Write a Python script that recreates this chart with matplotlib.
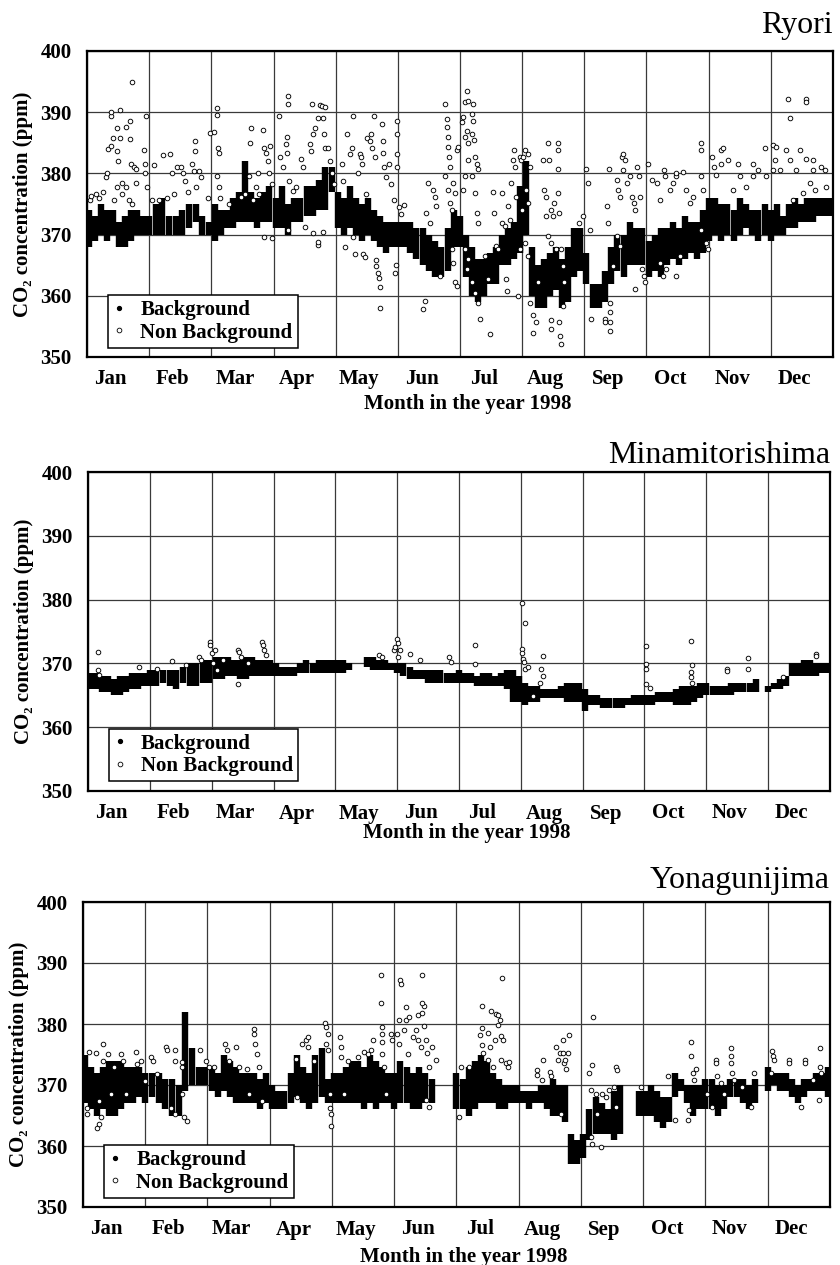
import numpy as np
import matplotlib
matplotlib.use("Agg")
import matplotlib.pyplot as plt
from matplotlib.lines import Line2D

plt.rcParams["font.family"] = ["Liberation Serif", "DejaVu Serif"]

months = ["Jan", "Feb", "Mar", "Apr", "May", "Jun",
          "Jul", "Aug", "Sep", "Oct", "Nov", "Dec"]
month_start = [0, 31, 59, 90, 120, 151, 181, 212, 243, 273, 304, 334, 365]

# background band, min / max ppm per 3-day step (day 1, 4, 7, ... 364)
ryori_bg_lo = [
    368, 369, 370, 369, 370, 368, 368, 369, 370, 370,
    370, 370, 370, 370, 370, 370, 371, 372, 370, 370,
    369, 370, 371, 371, 372, 372, 372, 371, 372, 372,
    371, 371, 370, 372, 372, 373, 373, 374, 374, 377,
    371, 370, 371, 370, 369, 370, 369, 368, 367, 368,
    368, 368, 367, 366, 365, 364, 363, 363, 364, 368,
    368, 363, 360, 359, 360, 362, 362, 365, 365, 366,
    367, 370, 360, 358, 358, 360, 361, 358, 359, 363,
    364, 362, 358, 358, 359, 362, 364, 363, 365, 365,
    365, 363, 364, 363, 365, 366, 365, 366, 367, 366,
    367, 369, 370, 369, 370, 369, 370, 371, 370, 369,
    370, 369, 370, 370, 371, 371, 372, 372, 372, 373,
    373, 373]
ryori_bg_hi = [
    374, 373, 375, 374, 374, 372, 373, 374, 374, 373,
    373, 375, 376, 373, 373, 374, 375, 375, 373, 372,
    375, 374, 374, 376, 377, 382, 377, 376, 377, 378,
    376, 378, 375, 376, 376, 378, 378, 379, 381, 381,
    377, 376, 378, 376, 375, 376, 374, 373, 372, 372,
    372, 372, 372, 371, 371, 370, 369, 368, 371, 374,
    373, 370, 368, 366, 366, 367, 368, 370, 371, 372,
    378, 382, 368, 365, 366, 367, 368, 366, 368, 371,
    371, 367, 362, 362, 364, 368, 370, 370, 372, 371,
    371, 369, 370, 371, 371, 372, 371, 373, 372, 372,
    374, 376, 376, 375, 375, 374, 376, 375, 374, 374,
    375, 374, 375, 373, 375, 376, 375, 376, 376, 376,
    376, 376]

minami_bg_lo = [
    366, 366, 365.5, 365.5, 365, 365, 365.5, 366, 366, 366.5,
    366.5, 366.5, 367, 366.5, 366, 367, 366.5, 366.5, 367, 367,
    367.5, 367.5, 368, 368, 367.5, 367.5, 368, 368, 368, 368,
    368, 368, 368, 368, 368.5, 368.5, 368.5, 368.5, 368.5, 368.5,
    368.5, 368.5, 369, np.nan, np.nan, 369.5, 369, 369, 369, 369,
    368.5, 368, 367.5, 367.5, 367.5, 367, 367, 367, 367, 367,
    367, 367, 367, 366.5, 366.5, 366.5, 366.5, 366.5, 366, 364,
    364, 363.5, 364, 364, 364.5, 364.5, 364.5, 364.5, 364, 364,
    364, 362.5, 363.5, 363.5, 363, 363, 363, 363, 363.5, 363.5,
    363.5, 363.5, 363.5, 364, 364, 364, 363.5, 363.5, 363.5, 364,
    364.5, 365, 365, 365, 365, 365, 365.5, 365.5, 365.5, 365.5,
    np.nan, 365.5, 366, 366, 366.5, 368, 368, 368, 368, 368,
    368.5, 368.5]
minami_bg_hi = [
    368.5, 368.5, 368, 368, 367.5, 368, 368, 368.5, 368.5, 368.5,
    369, 369, 369, 369, 369, 369.5, 370, 370, 370.5, 370.5,
    371, 371, 371, 370.5, 370.5, 371, 371, 370.5, 370.5, 370.5,
    370, 369.5, 369.5, 369.5, 370, 370.5, 370, 370.5, 370.5, 370.5,
    370.5, 370.5, 370, np.nan, np.nan, 371, 371, 370.5, 370.5, 370,
    370, 370, 369.5, 369, 369, 369, 369, 369, 368.5, 368.5,
    369, 368.5, 368.5, 368, 368.5, 368.5, 368, 368.5, 369, 369,
    368, 367, 366.5, 366.5, 366, 366, 366, 366.5, 367, 367,
    367, 366, 365, 365, 364.5, 364.5, 364.5, 364.5, 364.5, 365,
    365, 365, 365, 365.5, 365.5, 365.5, 366, 366.5, 366.5, 366.5,
    367, 367, 366.5, 366.5, 366.5, 367, 367, 367, 367, 367.5,
    np.nan, 366.5, 367, 367.5, 368, 370, 370, 370.5, 370.5, 370,
    370, 370]

yona_bg_lo = [
    367, 366, 365, 366, 365, 365, 366, 367, 367, 368,
    367, 368, 367, 366, 365, 365, 369, 370, 370, 370,
    369, 368, 369, 368, 367, 367, 367, 367, 366, 367,
    366, 366, 366, 367, 368, 367, 366, 367, 368, 367,
    367, 367, 367, 367, 367, 366, 367, 366, 367, 367,
    366, 367, 367, 366, 366, 367, 367, np.nan, np.nan, np.nan,
    366, 366, 365, 366, 367, 367, 367, 366, 366, 367,
    367, 367, 366, 367, 367, 366, 365, 365, 364, 357,
    357, 358, 361, 362, 362, 362, 361, 362, np.nan, np.nan,
    365, 365, 365, 364, 363, 364, 368, 369, 367, 365,
    366, 366, 366, 365, 366, 368, 368, 367, 366, 367,
    np.nan, 369, 370, 369, 369, 368, 367, 368, 369, 369,
    369, 368]
yona_bg_hi = [
    375, 373, 372, 373, 374, 374, 374, 373, 373, 373,
    372, 372, 372, 371, 371, 370, 382, 376, 373, 373,
    373, 372, 375, 374, 373, 372, 372, 372, 371, 372,
    370, 369, 369, 372, 375, 373, 372, 375, 376, 371,
    372, 372, 373, 374, 374, 373, 375, 374, 373, 372,
    372, 374, 373, 372, 373, 372, 371, np.nan, np.nan, np.nan,
    372, 371, 373, 374, 375, 374, 372, 371, 370, 370,
    370, 369, 369, 369, 370, 370, 371, 370, 370, 362,
    361, 362, 366, 368, 367, 366, 369, 370, np.nan, np.nan,
    369, 369, 370, 369, 368, 368, 372, 371, 370, 370,
    370, 371, 371, 370, 370, 371, 371, 371, 370, 371,
    np.nan, 373, 372, 372, 372, 371, 370, 371, 371, 372,
    372, 373]

# non background points: day of year and ppm
ryori_nb_day = [
    1.3, 2.1, 4.6, 6.2, 7.8, 9.5, 9.8, 10.3, 11.9, 11.9, 12.1, 13.2, 14.9, 15.2,
    15.4, 16.3, 16.3, 17.6, 19.3, 21.4, 21.4, 22.4, 21.7, 23.4, 24.2, 24.5, 17.6,
    19.3, 20.9, 22.5, 13.6, 15.2,
    28.6, 29.6, 29.1, 28.8, 29.9, 33.3, 37.3, 40.2, 41.3, 43.5, 45.4, 46.2, 47.1,
    50.3, 51.6, 51.6, 51.1, 53.6, 54.4, 52, 48.7, 42.2, 38.9, 35.6, 32.4, 57.7,
    58.5, 60.5, 61.8, 61.8, 62.1, 62.6, 61.8, 62.6, 63.4,
    68, 74, 75.7, 77.8, 78.4, 78.9, 81.4, 82.2, 84.6, 85.1, 86.3, 87.1, 88.4, 87.9,
    89.5, 83, 79.7, 85.5, 89.2,
    92.8, 93.3, 94.4, 95.8, 96.4, 96.4, 96.9, 96.9, 97.7, 96.9, 99.3, 101, 103.4,
    104.2, 105.1, 108.8, 107.5, 108.3, 109.2, 110, 111.3, 111.6, 111.6, 112.4,
    113.2, 114.9, 114.1, 114.5, 114.9, 116.5, 117.3, 118.1, 119, 114.1, 109.2,
    123, 123.9, 124.7, 125.5, 127.1, 127.9, 128.4, 128.8, 129.6, 130.9, 132,
    132.8, 133.3, 133.7, 134.5, 135.3, 135.8, 136.9, 137.7, 138.9, 138.2, 139.4,
    139.9, 140.2, 141, 141.8, 142.2, 142.3, 143.1, 143.5, 143.5, 144.3, 145.1,
    146.7, 147.5, 149.2, 149.7, 150, 150.5, 150.5, 150.5, 150.5, 151.6, 152.5,
    154.2, 163.2, 164, 164.8, 165.6, 166.4, 168, 168.8, 169.6, 171.3, 173.7,
    174.5, 174.5, 175, 175.3, 175.8, 176.1, 173.7, 175.3, 176.1, 176.9, 177.7,
    178.6, 179.4, 180.2, 176.9, 177.7, 178.6, 179.4,
    181.8, 182.7, 183.5, 184.6, 185.1, 186.8, 187.6, 187.6, 184.3, 183.5, 185.1,
    186.8, 188.1, 188.4, 189.3, 190.1, 185.1, 183.5, 182.7, 186.8, 188.4, 189.3,
    190.1, 183.5, 185.1, 184.3, 186.8, 188.4, 190.1, 191.2, 193.4, 195.1, 196.2,
    197.5, 198, 199.2, 200, 201.7, 201.7, 203.3, 204.1, 204.6, 206.6, 207.4,
    207.9, 208.3, 209.1, 205, 205.8, 209.9, 210.8, 211.6,
    212.5, 213.3, 215, 215.8, 214.1, 215, 211.7, 210.9, 213.3, 215, 215.8, 217.4,
    219, 217.4, 219.9, 222.3, 223.1, 224, 224.8, 225.6, 226.4, 227.2, 228.1, 224,
    224.8, 226.4, 228.9, 229.7, 229.7, 229.7, 229.7, 230.5, 231.3, 226.4, 226.4,
    230.5, 231, 231.3, 232.2, 233, 232.2,
    240.5, 242.2, 243.8, 244.6, 245.5, 246.3, 252.8, 252.8, 255.3, 255.3, 255.3,
    255.3, 254, 254.5, 255, 258.6, 259.4, 260.2, 261, 261.9, 262.7, 261.9, 263.5,
    265.1, 266, 266.8, 267.6, 268.4, 269.2, 270, 258.6, 260.2, 256.9, 267.6,
    270.9, 271.7, 272.5,
    273.8, 275.5, 278, 279.6, 281.8, 282.1, 284.6, 286.2, 287.9, 287.9, 291.2,
    292.8, 294.5, 296.1, 279.6, 281.3, 282.9, 287.9, 289.5,
    300.3, 300.3, 300.3, 301.1, 300.3, 302.7, 303.5, 305.6, 306.8, 307.6, 310,
    310.8, 310, 313.2, 318.1, 318.9, 325.4, 325.4, 327.8, 331, 331.9, 315.7, 322.2,
    335.2, 336.5, 336, 335.2, 338.5, 341.8, 342.6, 343.4, 343.4, 346.7, 348.4,
    351.7, 351.7, 351.7, 355, 355, 355.8, 359.1, 360.8, 361.6, 353.3, 350, 345.1]
ryori_nb_ppm = [
    375.6, 376.3, 376.6, 376, 377, 379.4, 380, 384, 384.5, 389.4, 390, 385.8, 383.7,
    387.5, 382, 390.3, 385.8, 378.5, 387.6, 388.5, 385.6, 395, 381.5, 381, 378.5,
    380.7, 376.6, 377.7, 375.6, 375, 375.6, 377.7,
    383.8, 389.4, 381.5, 380, 377.7, 381.4, 383, 383.1, 380, 381.1, 381, 380,
    378.8, 381.6, 385.3, 383.7, 380.4, 380.4, 379.4, 377.7, 377, 376.6, 376, 375.6,
    375.6, 376, 386.6, 386.8, 390.7, 389.6, 384.2, 383.4, 379.6, 377.7, 376,
    375, 376.1, 376.6, 379.6, 385, 387.5, 377.7, 380, 387.1, 384.2, 383.4, 382,
    384.5, 380, 378.3, 376.6, 375.6, 369.6, 369.5,
    389.4, 382.6, 381, 384.8, 386, 383.4, 392.7, 391.4, 378.8, 370.7, 377.2, 377.7,
    382.3, 381, 371.2, 391.4, 384.8, 383.7, 386.4, 387.5, 389, 368.3, 368.8, 391.2,
    391, 390.8, 389, 386.4, 384.2, 384.2, 382, 380, 378.3, 370.4, 370.2,
    381.5, 378.8, 368, 386.4, 383.1, 384.2, 389.4, 369.6, 366.9, 380, 383.1,
    382.6, 381.5, 366.9, 366.4, 376.6, 385.8, 385.3, 386.4, 389.4, 384.2, 382.6,
    365.8, 364.8, 363.7, 362.9, 361.5, 358, 388, 383.4, 385.3, 381, 379.4, 381.5,
    378.3, 375.6, 363.7, 365.1, 388.5, 386.4, 383.1, 381, 374.5, 373.4,
    374.9, 357.8, 359.2, 373.5, 378.4, 371.9, 377.3, 376.2, 374.6, 363.2, 391.4,
    388.9, 387.6, 386, 384.3, 382.7, 381, 379.5, 377.3, 375.1, 374, 378.4, 376.8,
    383.8, 384.3, 367.6, 365.4, 362.2, 361.6,
    388.4, 389.2, 391.6, 393.4, 391.9, 389.7, 391.4, 388.6, 387, 386, 384.9, 386.5,
    385.4, 382.7, 381.6, 380.8, 382.2, 379.5, 377.3, 379.5, 376.8, 373.5, 371.9,
    367.6, 366, 364.3, 362.2, 360.5, 358.9, 356.2, 366.5, 362.7, 353.8, 377, 373.5,
    368.1, 367.6, 376.8, 371.9, 371.4, 362.7, 360.8, 378.4, 382.2, 383.8, 381,
    376.2, 374.6, 372.4, 360, 382.7, 382.2,
    382.7, 383.8, 383.2, 381, 377.3, 375.1, 374, 367.6, 368.6, 366.5, 358.9, 356.8,
    355.7, 354, 362.2, 382.2, 377.3, 376.2, 384.9, 382.2, 374, 373, 375.1, 373,
    369.7, 368.6, 367.6, 384.9, 383.8, 380.8, 376.8, 373.5, 367.6, 356, 354.6,
    355.7, 353.5, 352.2, 358.4, 362.2, 364.9,
    371.9, 373, 380.8, 378.4, 370.8, 356.2, 356.2, 355.7, 358.9, 357.3, 355.7,
    354.3, 374.6, 371.9, 380.8, 378.9, 377.3, 376.2, 382.7, 383.2, 382.2, 380.5,
    378.4, 379.5, 376.2, 375.1, 374, 381, 379.5, 376.2, 369.7, 368.1, 364.9, 361.1,
    364.3, 363.2, 362.2,
    381.6, 378.9, 378.4, 375.7, 380.5, 379.5, 377.3, 378.4, 379.5, 380, 380.3,
    377.3, 375.1, 376.2, 365.4, 363.2, 364.3, 363.2, 366.5,
    384.9, 383.8, 379.5, 377.3, 370.8, 368.6, 367.6, 382.7, 381, 379.7, 383.8,
    384.1, 381.6, 382.2, 381.6, 379.5, 379.5, 381.6, 380.5, 384.1, 379.5, 377.3,
    377.8,
    384.6, 384.3, 382.2, 380.5, 380.5, 383.8, 392.2, 389, 382.2, 380.5, 383.8,
    392.2, 391.6, 382.4, 382.2, 380.5, 377.3, 381, 380.5, 377.8, 378.4, 376.8,
    375.7]

minami_nb_day = [
    4.9, 4.9, 5.7, 25.4, 34.4, 41, 47.5, 53.3, 54.1, 58.2, 58.2, 59, 60.7, 59.8,
    61.5, 64.8, 72.1, 72.9, 73.8, 72.1, 77, 84.4, 84.8, 85.2, 86.1,
    141.8, 143.4, 149.2, 150, 150.8, 151.6, 152.5, 151.6, 157.4, 162,
    176.1, 176.9, 189.1, 189.1, 212.6, 214.2, 212.6, 212.6, 212.9, 213.4, 214.2,
    215.8, 222.3, 223.1, 223.1, 221.5, 218.3,
    273.7, 273.7, 273.7, 273.7, 275.8, 296.4, 296.9, 296.1, 296.1, 296.9,
    313.9, 313.9, 324, 324, 341.5, 358.1, 358.1]
minami_nb_ppm = [
    371.8, 369, 368.2, 369.4, 369.1, 370.3, 369.7, 371, 370.5, 373.4, 372.9, 371.6,
    372.1, 370, 369, 370.5, 372.1, 371.8, 371, 366.8, 370, 373.4, 372.9, 372.1,
    371.3,
    371.3, 371, 372.1, 372.6, 373.9, 373.2, 372.1, 371, 371.5, 370.6,
    371, 370.2, 372.9, 369.9, 379.5, 376.3, 372.3, 371.7, 370.7, 370.2, 369.1,
    369.4, 369.1, 371.2, 368.1, 367, 364.9,
    372.7, 369.9, 369.1, 366.7, 366.2, 373.5, 369.7, 368.6, 367.8, 367,
    369.2, 368.8, 370.8, 369.2, 367.8, 371.5, 371.2]

yona_nb_day = [
    2, 2, 3, 6.6, 6.9, 7.9, 9, 9.8, 10.2, 8.2, 12.3, 13.9, 15.6, 18.9, 19.7, 21.3,
    26.2, 27, 28.7, 31.1, 33.6, 34.4, 36.1, 40.5, 41, 44.3, 44.6, 47.5, 47.5, 47.5,
    42.6, 44.3, 48.4, 50, 55.7, 58.2, 59.8, 62.3, 67.5, 68.5, 69.7, 73, 74.6, 78.7,
    82, 82, 82.8, 83.6, 84.4, 79.5, 86.1, 102.5, 105.7, 107.4, 108.2, 108.2, 111.5,
    103.3, 116.4, 117.2, 118, 117.2, 118, 118.9, 118.9, 119.3, 119.3, 123.8, 124.6,
    124.6, 127.9, 126.2, 132.8, 136.1, 137.7, 139.3, 140.2, 144.3, 144.3, 144.8,
    145.1, 145.1, 145.1, 145.9, 146.7, 149.2, 150, 152.5, 153.3, 153.8, 154.1,
    153.3, 156.6, 156.6, 155.7, 158.2, 157.4, 159.8, 161.5, 162.3, 162.3, 163.9,
    164.5, 165.4, 164.5, 164.5, 165.4, 166.2, 167, 167.8, 169.4, 171, 166.2, 167.8,
    182.3, 183.1, 187.1, 193.6, 193.6, 192.8, 193.6, 194.4, 196.8, 197.6, 198.4,
    200, 200.8, 201.6, 201.6, 202.5, 203.3, 204.1, 203.3, 205.7, 206.5, 207.3,
    203.6, 196.8, 199.2,
    221, 221.3, 223.4, 224.2, 227.5, 228.3, 230.7, 231.5, 232.3, 233.9, 233.9,
    234.7, 235.2, 235.5, 237.1, 236.3, 233.1,
    246.8, 247.6, 248.9, 248.4, 250, 250.8, 253.3, 254.9, 256.5, 258.9, 259.7,
    260.5, 259.7, 247.6, 248.4, 252.5,
    271.8, 285.5, 288.7, 295.2, 296.8, 296.8, 297.6, 298.4, 299.2, 296,
    304.5, 308.9, 308.9, 309.7, 311.3, 307.3, 312.9, 316.2, 316.2, 316.5, 317,
    317.8, 325.8, 327.5, 321.8,
    336.3, 336.8, 337.1, 335.5, 344.4, 344.4, 350.8, 352.5, 352.5, 356.5, 359.7,
    360, 360, 360.5]
yona_nb_ppm = [
    366.3, 365.2, 375.4, 375.2, 363, 363.6, 364.7, 376.8, 374, 367.4, 375.1, 368.5,
    372.9, 375.1, 374, 368.5, 375.4, 373.5, 374, 370.7, 374.6, 374, 371.8, 376.3,
    375.7, 374, 375.7, 373.7, 372.9, 368.5, 366.3, 365.2, 364.7, 364.1, 375.7, 374,
    372.9, 372.9, 376.8, 375.7, 374, 376.2, 372.9, 372.6, 379.2, 378.4, 376.8,
    375.1, 372.9, 368.5, 367.4, 374.3, 376.8, 377.3, 377.9, 376.2, 374, 368, 380.1,
    379.5, 378.4, 376.8, 375.7, 368.5, 366.3, 365.2, 363.3, 377.9, 376.2, 374.6,
    374, 368.5, 374.6, 375.4, 375.1, 375.7, 377.3, 388, 383.5, 379.5, 378.4, 377,
    375.1, 372.9, 368.5, 378.4, 377.3, 378.4, 376.8, 387.2, 386.6, 380.6, 382.8,
    380.6, 379, 381.2, 375.1, 377.9, 379, 381.4, 377.3, 376.2,
    388.1, 382.9, 381.8, 383.5, 379.6, 377.4, 375.2, 373, 376.3, 374.1, 367.5,
    366.4,
    364.8, 373, 373, 382.9, 379.3, 378.2, 376.6, 375.2, 378.5, 376.3, 382.1, 377.4,
    381.7, 381.5, 379.9, 380.7, 378, 377.4, 374.1, 373.6, 373, 373.7, 387.5, 374.1,
    373,
    372.5, 371.6, 370.8, 374.1, 372.2, 371.4, 376.3, 374.1, 375.2, 377.4, 375.2,
    373.6, 374.1, 372.7, 378.2, 375.2, 365.3,
    371.9, 369.2, 381.1, 373.3, 368.6, 365.3, 368.6, 368.1, 369.2, 369.7, 373,
    372.5, 366.4, 361.5, 360.4, 359.8,
    369.7, 371.4, 364.2, 364.2, 377.1, 374.7, 371.9, 370.8, 372.7, 365.9,
    368.6, 374.1, 373.6, 371.4, 370.3, 366.4, 368.6, 376, 374.7, 373.6, 371.9,
    370.8, 366.4, 371.9, 369.7,
    375.5, 374.7, 374.1, 371.9, 374.1, 373.6, 366.4, 374.1, 373.6, 370.8, 367.5,
    373, 376, 371.9]

stations = ["Ryori", "Minamitorishima", "Yonagunijima"]
bg_lo = [ryori_bg_lo, minami_bg_lo, yona_bg_lo]
bg_hi = [ryori_bg_hi, minami_bg_hi, yona_bg_hi]
nb_day = [ryori_nb_day, minami_nb_day, yona_nb_day]
nb_ppm = [ryori_nb_ppm, minami_nb_ppm, yona_nb_ppm]

# axes rectangles in figure fractions (left, bottom, width, height)
W, H = 840, 1265
rects = [
    (87 / W, 1 - 357 / H, 746 / W, 306 / H),
    (88 / W, 1 - 791 / H, 742 / W, 319 / H),
    (83 / W, 1 - 1207 / H, 747 / W, 305 / H),
]
title_gap = [18, 9, 14]
xlabel_off = [47, 42, 50]


def to_month(day):
    # months are drawn with equal width on this chart
    return np.interp(day, month_start, np.arange(13))


fig = plt.figure(figsize=(W / 100, H / 100), dpi=100)
bold = dict(family=["Liberation Serif", "DejaVu Serif"], weight="bold", size=15)

for i, name in enumerate(stations):
    ax = fig.add_axes(rects[i])
    lo = np.array(bg_lo[i], dtype=float)
    hi = np.array(bg_hi[i], dtype=float)
    day = 1 + 3 * np.arange(len(lo))
    ok = ~np.isnan(lo)
    ax.vlines(to_month(day[ok]), lo[ok], hi[ok], color="black", lw=4.6, zorder=3)
    ax.scatter(to_month(np.array(nb_day[i])), nb_ppm[i], s=11, marker="o",
               facecolor="white", edgecolor="black", linewidths=0.65, zorder=4)

    ax.set_xlim(0, 12)
    ax.set_ylim(350, 400)
    ax.set_yticks(np.arange(350, 401, 10))
    ax.set_xticks(np.arange(12) + 0.38)
    ax.set_xticklabels(months)
    ax.set_xticks(np.arange(13), minor=True)
    ax.grid(True, which="minor", axis="x", color="#3a3a3a", lw=0.9)
    ax.grid(True, which="major", axis="y", color="#3a3a3a", lw=0.9)
    ax.set_axisbelow(True)
    ax.tick_params(which="both", length=0)
    ax.tick_params(axis="x", pad=9)
    ax.tick_params(axis="y", pad=11)
    for lab in ax.get_xticklabels() + ax.get_yticklabels():
        lab.set_fontproperties(matplotlib.font_manager.FontProperties(**bold))
    for sp in ax.spines.values():
        sp.set_linewidth(1.6)

    ax.set_ylabel("CO₂ concentration (ppm)", fontdict=bold, labelpad=5)
    ah = rects[i][3] * H
    ax.text(0.51, -xlabel_off[i] / ah, "Month in the year 1998", transform=ax.transAxes,
            ha="center", va="center", fontdict=bold)
    ax.text(1.0, 1 + title_gap[i] / ah, name, transform=ax.transAxes,
            ha="right", va="baseline", fontsize=23,
            family=["Liberation Serif", "DejaVu Serif"])

    handles = [
        Line2D([], [], ls="none", marker="o", ms=2.8, color="black"),
        Line2D([], [], ls="none", marker="o", ms=3.4, mfc="white", mec="black", mew=0.6),
    ]
    leg = ax.legend(handles, ["Background", "Non Background"], loc="lower left",
                    bbox_to_anchor=(0.028, 0.03), borderaxespad=0, prop=bold,
                    handlelength=0.6, handletextpad=0.7, borderpad=0.25,
                    labelspacing=0.12, fancybox=False, framealpha=1)
    leg.get_frame().set_edgecolor("black")
    leg.get_frame().set_linewidth(1.1)
    leg.set_zorder(10)

fig.savefig("out.png", dpi=100)
